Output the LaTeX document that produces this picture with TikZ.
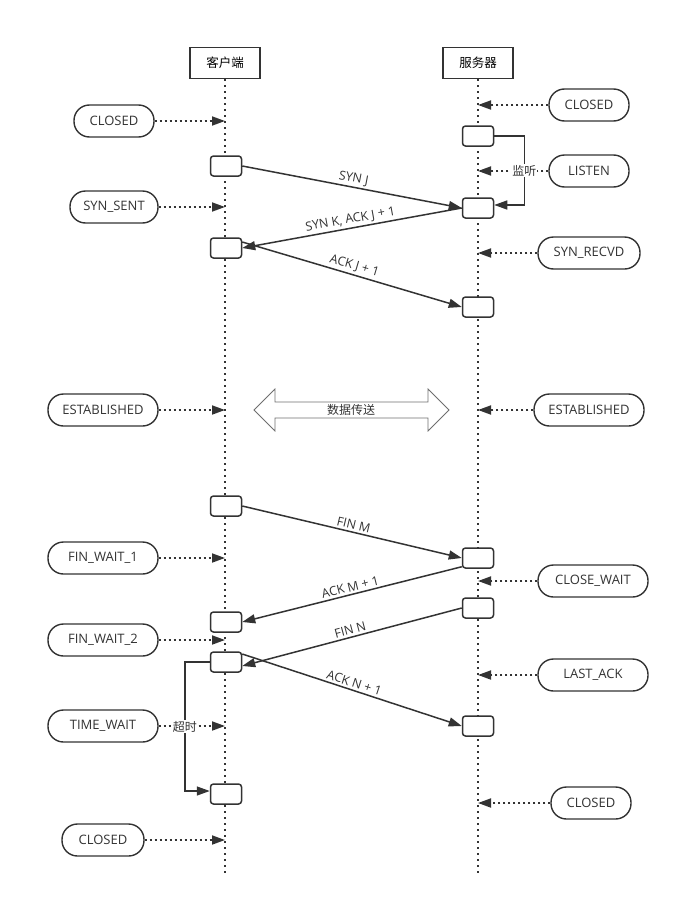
\documentclass[tikz,border=0pt]{standalone}
\usepackage{fontspec}
\setmainfont{Open Sans}
\newfontfamily\cjk{Noto Sans CJK SC}
\usetikzlibrary{arrows.meta,positioning}
\definecolor{Xline}{RGB}{51,51,51}
\definecolor{Xgray}{RGB}{110,110,110}
\tikzset{
  headbox/.style={draw=Xline, line width=1.5pt, fill=white, minimum width=70pt, minimum height=31pt, font=\cjk\fontsize{12.5}{14}\selectfont},
  actbox/.style={draw=Xline, line width=1.5pt, rounded corners=3pt, fill=white, minimum width=31pt, minimum height=20pt, inner sep=0pt},
  statebox/.style={draw=Xline, line width=1.4pt, rounded corners=15.5pt, fill=white, minimum height=32pt, minimum width=80pt, inner xsep=6pt, font=\fontsize{13}{15}\selectfont, text=Xline},
  life/.style={draw=Xline, line width=2pt, dash pattern=on 2pt off 4pt},
  msg/.style={-{Triangle[length=13pt,width=9pt]}, line width=1.5pt, draw=Xline},
  dotflow/.style={-{Triangle[length=13pt,width=9pt]}, line width=1.8pt, dash pattern=on 2pt off 3pt, draw=Xline},
  msglabel/.style={font=\fontsize{12.5}{14}\selectfont, sloped, above, inner sep=2pt, text=Xline},
  looplabel/.style={font=\cjk\fontsize{12}{13}\selectfont, fill=white, inner sep=1pt, text=Xline}
}
\begin{document}
\begin{tikzpicture}[x=1pt,y=-1pt]
  \useasboundingbox (0,0) rectangle (680,910);
  % headers and lifelines
  \node[headbox] (cli) at (225,63) {客户端};
  \node[headbox] (srv) at (478,63) {服务器};
  \coordinate (cliend) at (225,876);
  \coordinate (srvend) at (478,876);
  \draw[life] (cli.south) -- (cliend);
  \draw[life] (srv.south) -- (srvend);

  % activation boxes, client side
  \node[actbox] (c1) at (226,166) {};
  \node[actbox] (c2) at (226,248) {};
  \node[actbox] (c3) at (226,506) {};
  \node[actbox] (c4) at (226,622) {};
  \node[actbox] (c5) at (226,662) {};
  \node[actbox] (c6) at (226,794) {};
  % activation boxes, server side
  \node[actbox] (s1) at (478,136) {};
  \node[actbox] (s2) at (478,208) {};
  \node[actbox] (s3) at (478,307) {};
  \node[actbox] (s4) at (478,558) {};
  \node[actbox] (s5) at (478,608) {};
  \node[actbox] (s6) at (478,726) {};

  % client states
  \node[statebox] (cclosed) at (114,121) {CLOSED};
  \node[statebox, minimum width=88pt] (csent) at (114,207) {SYN\_SENT};
  \node[statebox, minimum width=110pt] (cest) at (103,410) {ESTABLISHED};
  \node[statebox, minimum width=110pt] (cfw1) at (103,558) {FIN\_WAIT\_1};
  \node[statebox, minimum width=110pt] (cfw2) at (103,640) {FIN\_WAIT\_2};
  \node[statebox, minimum width=110pt] (ctw) at (103,726) {TIME\_WAIT};
  \node[statebox, minimum width=82pt] (cend) at (103,840) {CLOSED};
  % server states
  \node[statebox] (sclosed) at (589,105) {CLOSED};
  \node[statebox] (slisten) at (589,171) {LISTEN};
  \node[statebox, minimum width=102pt] (srecvd) at (589,253) {SYN\_RECVD};
  \node[statebox, minimum width=110pt] (sest) at (589,410) {ESTABLISHED};
  \node[statebox, minimum width=110pt] (swait) at (593,581) {CLOSE\_WAIT};
  \node[statebox, minimum width=110pt] (slast) at (593,675) {LAST\_ACK};
  \node[statebox] (send) at (591,803) {CLOSED};

  % state pointers
  \draw[dotflow] (cclosed) -- (cclosed -| cli);
  \draw[dotflow] (csent) -- (csent -| cli);
  \draw[dotflow] (cest) -- (cest -| cli);
  \draw[dotflow] (cfw1) -- (cfw1 -| cli);
  \draw[dotflow] (cfw2) -- (cfw2 -| cli);
  \draw[dotflow] (ctw) -- (ctw -| cli);
  \draw[dotflow] (cend) -- (cend -| cli);
  \draw[dotflow] (sclosed) -- (sclosed -| srv);
  \draw[dotflow] (slisten) -- (slisten -| srv);
  \draw[dotflow] (srecvd) -- (srecvd -| srv);
  \draw[dotflow] (sest) -- (sest -| srv);
  \draw[dotflow] (swait) -- (swait -| srv);
  \draw[dotflow] (slast) -- (slast -| srv);
  \draw[dotflow] (send) -- (send -| srv);

  % handshake
  \draw[msg] (c1.east) -- node[msglabel] {SYN J} (s2.west);
  \draw[msg] (s2.west) -- node[msglabel] {SYN K, ACK J + 1} (c2.east);
  \draw[msg] ([yshift=6pt]c2.east) -- node[msglabel] {ACK J + 1} (s3.west);

  % data transfer
  \node[font=\cjk\fontsize{12}{13}\selectfont, text=Xline] (data) at (351,410) {数据传送};
  \draw[Xgray, line width=0.8pt] (254,410) -- (275,389) -- (275,402) -- (428,402) -- (428,389)
    -- (449,410) -- (428,431) -- (428,418) -- (275,418) -- (275,431) -- cycle;

  % teardown
  \draw[msg] (c3.east) -- node[msglabel] {FIN M} (s4.west);
  \draw[msg] ([yshift=2pt]s4.south west) -- node[msglabel] {ACK M + 1} (c4.east);
  \draw[msg] (s5.west) -- node[msglabel] {FIN N} ([yshift=-4pt]c5.east);
  \draw[msg] ([yshift=8pt]c5.east) -- node[msglabel] {ACK N + 1} (s6.west);

  % listen and timeout loops
  \draw[msg] (s1.east) -- ++(30,0) |- ([yshift=3pt]s2.east)
    node[looplabel, pos=0.25] {监听};
  \draw[msg] (c5.west) -- ++(-25,0) |- ([yshift=3pt]c6.west)
    node[looplabel, pos=0.25] {超时};
\end{tikzpicture}
\end{document}
